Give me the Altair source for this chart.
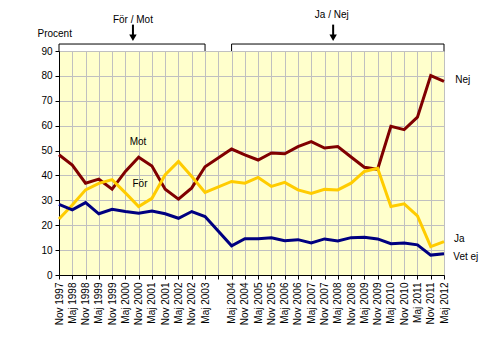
import altair as alt
import pandas as pd

labels = ["Nov 1997", "Maj 1998", "Nov 1998", "Maj 1999", "Nov 1999", "Maj 2000",
          "Nov 2000", "Maj 2001", "Nov 2001", "Maj 2002", "Nov 2002", "Maj 2003",
          "", "Maj 2004", "Nov 2004", "Maj 2005", "Nov 2005", "Maj 2006", "Nov 2006",
          "Maj 2007", "Nov 2007", "Maj 2008", "Nov 2008", "Maj 2009", "Nov 2009",
          "Maj 2010", "Nov 2010", "Maj 2011", "Nov 2011", "Maj 2012"]

mot_nej = [48.3, 44.2, 36.9, 38.5, 34.5, 41.6, 47.3, 43.8, 34.5, 30.5, 35.0, 43.5, None,
           50.6, 48.3, 46.2, 49.0, 48.7, 51.6, 53.6, 51.0, 51.6, 47.4, 43.3, 42.5,
           59.7, 58.4, 63.4, 80.1, 77.8]
for_ja = [22.5, 28.1, 34.2, 36.8, 38.3, 33.0, 27.5, 30.8, 40.3, 45.6, 39.6, 33.2, None,
          37.6, 36.9, 39.2, 35.6, 37.2, 34.2, 32.8, 34.4, 34.2, 36.9, 41.6, 42.9,
          27.5, 28.6, 23.7, 11.4, 13.4]
vet_ej = [28.4, 26.2, 29.1, 24.6, 26.4, 25.5, 24.8, 25.7, 24.6, 22.8, 25.5, 23.5, None,
          11.7, 14.6, 14.6, 15.0, 13.8, 14.2, 12.9, 14.5, 13.7, 15.0, 15.2, 14.5,
          12.6, 12.9, 12.1, 8.0, 8.5]

series_names = ["Mot/Nej", "För/Ja", "Vet ej"]
series_colors = ["#800000", "#FFCC00", "#000080"]

FONT = "Liberation Sans"
idx = list(range(len(labels)))

rows = []
for name, vals in zip(series_names, [mot_nej, for_ja, vet_ej]):
    for i, v in zip(idx, vals):
        if v is not None:
            rows.append({"i": i, "v": v, "s": name})
df = pd.DataFrame(rows)

xscale = alt.Scale(domain=[0, 29], nice=False, zero=False)
yscale = alt.Scale(domain=[0, 90], nice=False, zero=True)

label_js = "[" + ",".join("'" + l + "'" for l in labels) + "][datum.value]"

x_axis = alt.Axis(values=idx, labelExpr=label_js, labelAngle=-90, labelFlush=False,
                  labelOverlap=False, grid=True, gridColor="#C0C0C0", gridWidth=1,
                  domainColor="black", tickColor="black", tickSize=4, labelFontSize=10,
                  labelColor="black", labelPadding=3, title=None, labelFont=FONT,
                  labelBound=False)
y_axis = alt.Axis(values=list(range(0, 91, 10)), grid=True, gridColor="#C0C0C0", gridWidth=1,
                  domainColor="black", tickColor="black", tickSize=4, labelFontSize=10,
                  labelColor="black", labelPadding=3, labelFont=FONT, labelOverlap=False,
                  labelFlush=False,
                  title="Procent", titleAngle=0, titleX=-22, titleY=-18, titleAlign="left",
                  titleBaseline="middle", titleFontWeight="normal", titleFontSize=10,
                  titleFont=FONT, titleColor="black")

X = alt.X("i:Q", scale=xscale, axis=x_axis)
Y = alt.Y("v:Q", scale=yscale, axis=y_axis)

lines = alt.Chart(df).mark_line(strokeWidth=3).encode(
    x=X, y=Y,
    color=alt.Color("s:N", scale=alt.Scale(domain=series_names, range=series_colors), legend=None),
)

# brackets above the plot
bracket_df = pd.DataFrame({
    "i": [0, 0, 11, 11, 13, 13, 29, 29],
    "v": [90, 92.8, 92.8, 90, 90, 92.8, 92.8, 90],
    "g": ["a"] * 4 + ["b"] * 4,
    "o": [0, 1, 2, 3, 0, 1, 2, 3],
})
brackets = alt.Chart(bracket_df).mark_line(color="black", strokeWidth=1, strokeJoin="miter").encode(
    x=X, y=Y, detail="g:N", order="o:Q")

arrow_df = pd.DataFrame({"i": [5.57, 20.65], "v": [100.6, 100.6], "v2": [96.4, 96.4], "h": [95.3, 95.3]})
shafts = alt.Chart(arrow_df).mark_rule(color="black", strokeWidth=2).encode(
    x=X, y=Y, y2="v2:Q")
heads = alt.Chart(arrow_df).mark_point(shape="triangle-down", filled=True, size=55,
                                        color="black", opacity=1).encode(
    x=X, y=alt.Y("h:Q", scale=yscale, axis=y_axis))

head_text_df = pd.DataFrame({"i": [5.57, 20.55], "v": [102.3, 104.3], "t": ["För / Mot", "Ja / Nej"]})
head_text = alt.Chart(head_text_df).mark_text(fontSize=10, font=FONT, color="black",
                                             align="center", baseline="middle").encode(
    x=X, y=Y, text="t:N")

end_df = pd.DataFrame({"i": [29.85, 29.75, 29.7], "v": [78.5, 14.5, 7.2], "t": ["Nej", "Ja", "Vet ej"]})
end_labels = alt.Chart(end_df).mark_text(fontSize=10, font=FONT, color="black",
                                         align="left", baseline="middle").encode(
    x=X, y=Y, text="t:N")

in_df = pd.DataFrame({"i": [5.95, 6.1], "v": [53.4, 36.6], "t": ["Mot", "För"]})
in_labels = alt.Chart(in_df).mark_text(fontSize=10, font=FONT, color="black",
                                       align="center", baseline="middle").encode(
    x=X, y=Y, text="t:N")

chart = alt.layer(lines, brackets, shafts, heads, head_text, end_labels, in_labels).properties(
    width=385, height=224,
    padding={"left": 59, "top": 51, "right": 56, "bottom": 76},
    autosize=alt.AutoSizeParams(type="none"),
    background="white",
).configure_view(stroke="black", strokeWidth=1, fill="#FFFFCC")

chart.save("out.html", embed_options={"renderer": "svg", "actions": False})
